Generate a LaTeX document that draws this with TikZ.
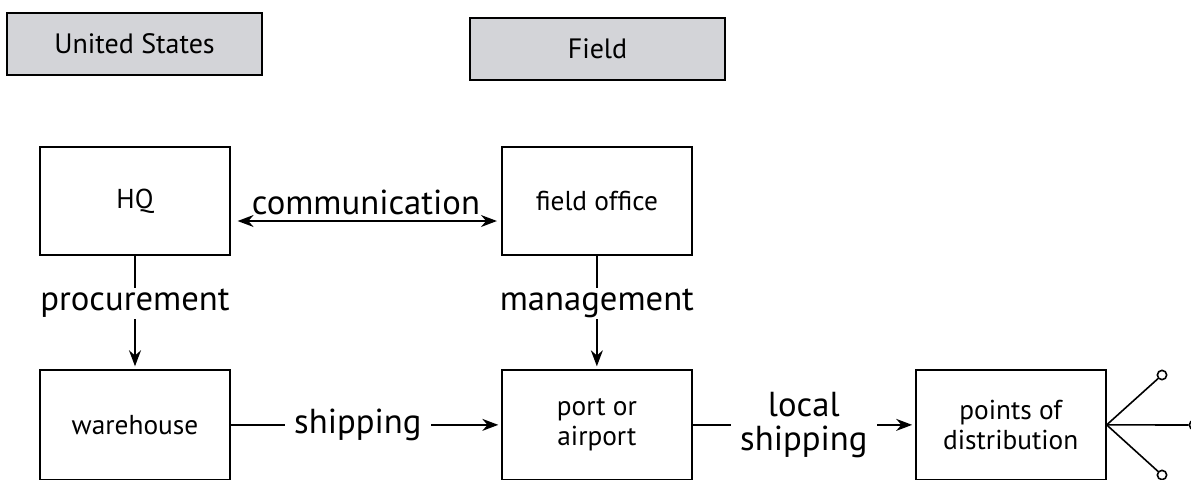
\documentclass[tikz,border=0pt]{standalone}
\usepackage{fontspec}
\setmainfont{PT Sans}
\usepackage{tikz}
\usetikzlibrary{positioning, arrows.meta}
\usepackage{xcolor}
\definecolor{TagGray}{RGB}{211, 212, 216}
\definecolor{InkBlack}{RGB}{0, 0, 0}
\definecolor{PaperWhite}{RGB}{255, 255, 255}
\colorlet{RegionFill}{TagGray}
\colorlet{RegionStroke}{InkBlack}
\colorlet{StageStroke}{InkBlack}
\colorlet{ArrowColor}{InkBlack}
\tikzset{
    % Region tag (United States / Field)
    regiontag/.style={
        draw=RegionStroke,
        fill=RegionFill,
        rectangle,
        minimum width=191.25pt,
        minimum height=46.5pt,
        font=\fontsize{21}{25}\selectfont,
        line width=1.5pt
    },
    % Stage box (HQ, warehouse, ...)
    stagebox/.style={
        draw=StageStroke,
        fill=PaperWhite,
        rectangle,
        minimum width=142.5pt,
        align=center,
        inner sep=0pt,
        font=\fontsize{20.5}{23}\selectfont,
        line width=1.4pt
    },
    % Label sitting on a flow line
    flowlabel/.style={
        fill=PaperWhite,
        inner xsep=7pt,
        inner ysep=1pt,
        align=center,
        font=\fontsize{26}{25}\selectfont
    },
    % Standard Arrow Style
    stdarrow/.style={
        -{Stealth[length=12pt, width=9pt]},
        line width=1.2pt,
        shorten >=2pt,
        color=ArrowColor
    },
    % Two-way Arrow Style
    twoarrow/.style={
        {Stealth[length=12pt, width=9pt]}-{Stealth[length=12pt, width=9pt]},
        line width=1.2pt,
        shorten <=5pt,
        shorten >=3pt,
        color=ArrowColor
    },
    % Open end dot of the fan-out
    enddot/.style={
        circle,
        draw=InkBlack,
        fill=PaperWhite,
        line width=1.2pt,
        minimum size=7pt,
        inner sep=0pt
    }
}

\begin{document}
\begin{tikzpicture}[x=0.75pt, y=-0.75pt]
    \useasboundingbox (0,0) rectangle (1191,479);
    \clip (0,0) rectangle (1191,479);

    % ==========================================
    % REGION TAGS
    % ==========================================
    \node[regiontag, line width=2.2pt] (us) at (134.5,44) {United States};
    \node[regiontag] (field) at (597.5,49) {Field};

    % ==========================================
    % STAGES
    % ==========================================
    \node[stagebox, minimum height=81pt] (hq) at (135,201) {HQ};
    \node[stagebox, minimum height=81pt, right=202.5pt of hq] (fo) {field office};

    \node[stagebox, minimum height=82.5pt, below=84.75pt of hq] (wh) {warehouse};
    \node[stagebox, minimum height=82.5pt, right=202.5pt of wh] (port) {port or\\airport};
    \node[stagebox, minimum height=82.5pt, right=166.5pt of port] (pod) {points of\\distribution};

    % ==========================================
    % FLOWS
    % ==========================================
    \draw[twoarrow] ([yshift=-15pt]hq.east) -- ([yshift=-15pt]fo.west)
        node[midway, above=1pt, font=\fontsize{26}{30}\selectfont] (comm) {communication};

    \draw[stdarrow] (hq) -- node[flowlabel, pos=0.42] (proc) {procurement} (wh);
    \draw[stdarrow] (fo) -- node[flowlabel, pos=0.42] (mgmt) {management} (port);

    \draw[stdarrow] (wh) -- node[flowlabel, pos=0.47] (ship) {shipping} (port);
    \draw[stdarrow] (port) -- node[flowlabel] (lship) {local\\shipping} (pod);

    % Fan-out past the points of distribution
    \node[enddot] (d1) at (1162,375) {};
    \node[enddot] (d2) at (1194,425) {};
    \node[enddot] (d3) at (1162,475) {};
    \foreach \d in {d1, d2, d3} {
        \draw[line width=1.2pt] (pod.east) -- (\d);
    }

\end{tikzpicture}
\end{document}
